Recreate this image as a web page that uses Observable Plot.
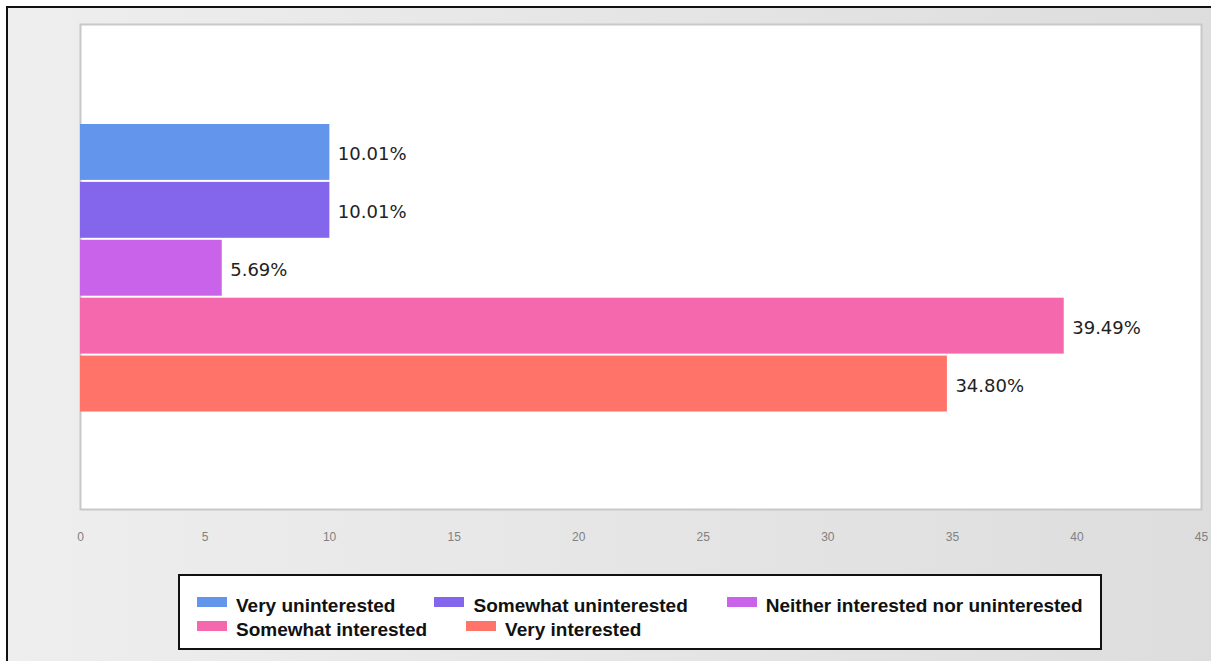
<!DOCTYPE html>
<html>
<head>
<meta charset="utf-8">
<script src="https://cdn.jsdelivr.net/npm/d3@7"></script>
<script src="https://cdn.jsdelivr.net/npm/@observablehq/plot@0.6"></script>
<style>
  html, body { margin: 0; padding: 0; background: #fff; width: 1211px; height: 661px; overflow: hidden; }
  #frame {
    position: absolute; left: 6px; top: 6px; width: 1220px; height: 670px;
    border-left: 2px solid #111; border-top: 2px solid #111;
    background: linear-gradient(to right, #eeeeee, #dddddd);
  }
  #chart { position: absolute; left: 0; top: 0; }
  #legend {
    position: absolute; left: 178px; top: 574px;
    border: 2px solid #111; background: #fff;
    padding: 18px 0 0 17px; box-sizing: border-box; width: 924px; height: 76px;
    display: flex; flex-wrap: wrap; column-gap: 39px; align-content: flex-start;
    font-family: "Liberation Sans", Arial, sans-serif; font-weight: bold; font-size: 19px; line-height: 24px; color: #111;
  }
  .item { display: flex; align-items: flex-start; white-space: nowrap; }
  .sw { width: 30px; height: 10px; margin-top: 3px; margin-right: 9px; }
</style>
</head>
<body>
<div id="frame"></div>
<div id="chart"></div>
<div id="legend"></div>
<script>
const categories = ["Very uninterested", "Somewhat uninterested", "Neither interested nor uninterested", "Somewhat interested", "Very interested"];
const values = [10.01, 10.01, 5.69, 39.49, 34.80];
const colors = ["#6495ed", "#8366ec", "#c963ea", "#f668ae", "#ff7369"];
const xTicks = [0, 5, 10, 15, 20, 25, 30, 35, 40, 45];

const data = categories.map((c, i) => ({category: c, value: values[i]}));

const plot = Plot.plot({
  width: 1211,
  height: 560,
  marginLeft: 80,
  marginRight: 10,
  marginTop: 24,
  marginBottom: 51,
  style: {background: "transparent", overflow: "visible"},
  x: {domain: [0, 45], ticks: xTicks, label: null},
  y: {domain: categories, range: [124, 413.5], padding: 0, round: false, axis: null},
  color: {domain: categories, range: colors},
  marks: [
    Plot.frame({fill: "white", stroke: "#c8c8c8", strokeWidth: 2}),
    Plot.barX(data, {x: "value", y: "category", fill: "category", insetBottom: 2}),
    Plot.text(data, {
      x: "value", y: "category",
      text: d => d.value.toFixed(2) + "%",
      textAnchor: "start", dx: 8, dy: 1,
      fill: "#222", fontSize: 18, fontFamily: "DejaVu Sans"
    }),
    Plot.axisX({
      ticks: xTicks, tickSize: 0, tickPadding: 23, label: null,
      fontSize: 12, fontFamily: "Liberation Sans", color: "#808080"
    })
  ]
});
document.getElementById("chart").appendChild(plot);

const colorScale = plot.scale("color");
const legend = d3.select("#legend");
categories.forEach((c, i) => {
  const item = legend.append("div").attr("class", "item");
  item.append("div").attr("class", "sw").style("background", colorScale.range[i]);
  item.append("span").text(c);
});
</script>
</body>
</html>
